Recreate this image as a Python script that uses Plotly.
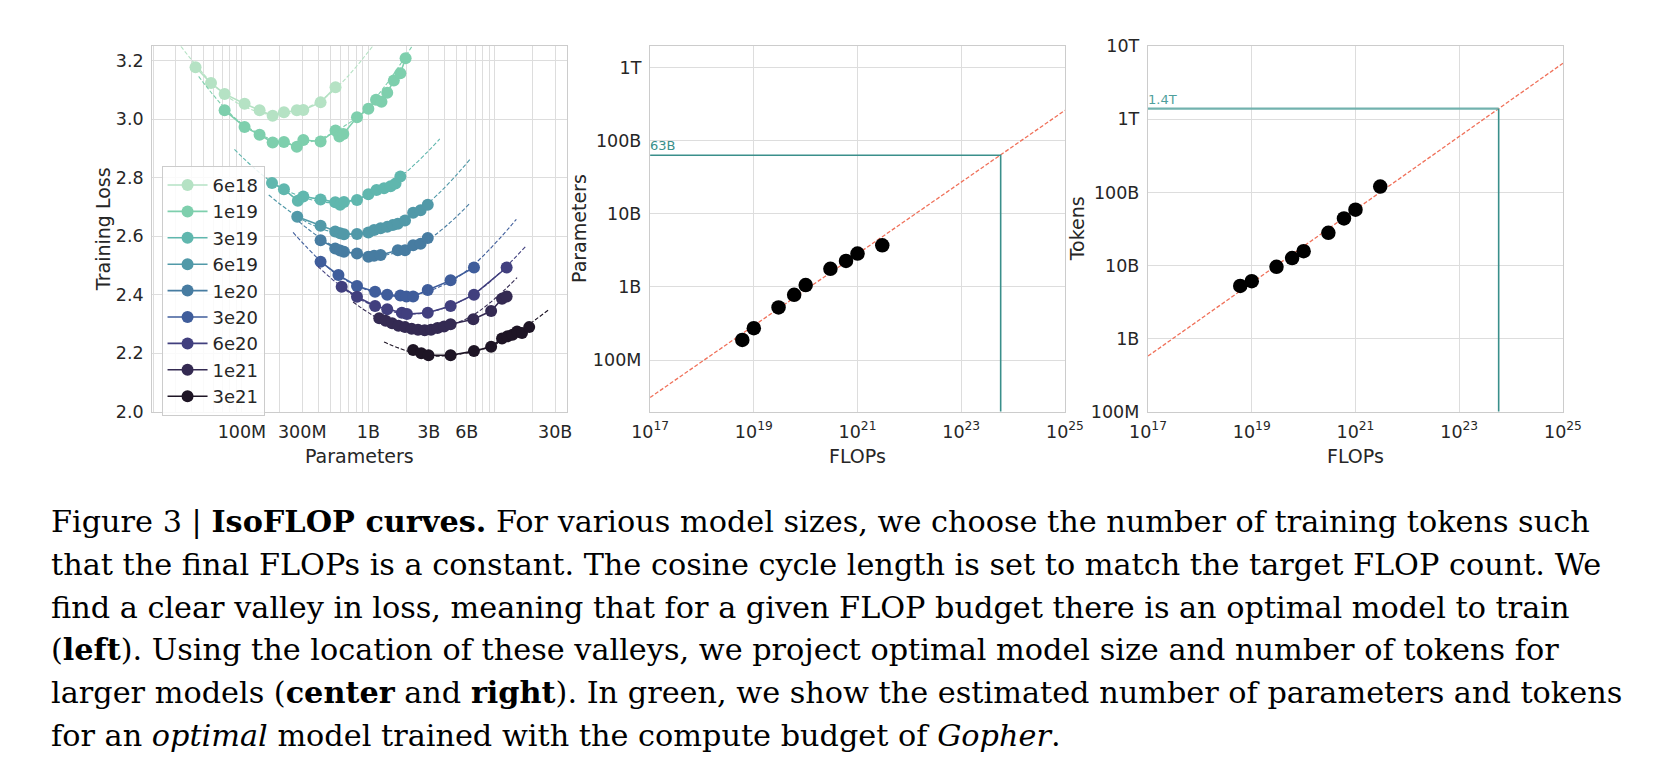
import math
import plotly.graph_objects as go

W, H = 1658, 776

# ---- data ----
budgets = ['6e18', '1e19', '3e19', '6e19', '1e20', '3e20', '6e20', '1e21', '3e21']
colors = ['#b5e2c4', '#7ecfad', '#60b7ae', '#5199a8', '#477ca1', '#3f5d9b', '#413f7e', '#342a52', '#1e1525']

params_6e18 = [43e6, 57e6, 73e6, 105e6, 138e6, 175e6, 215e6, 272e6, 306e6, 419e6, 550e6]
loss_6e18 = [3.178, 3.124, 3.087, 3.053, 3.031, 3.012, 3.024, 3.031, 3.032, 3.058, 3.110]
params_1e19 = [73e6, 105e6, 138e6, 175e6, 215e6, 272e6, 306e6, 419e6, 550e6, 590e6, 634e6, 813e6,
               1.0e9, 1.15e9, 1.27e9, 1.41e9, 1.59e9, 1.79e9, 1.97e9]
loss_1e19 = [3.031, 2.974, 2.947, 2.921, 2.922, 2.906, 2.929, 2.924, 2.962, 2.941, 2.950, 3.007,
             3.036, 3.067, 3.060, 3.091, 3.133, 3.158, 3.209]
params_3e19 = [173e6, 215e6, 277e6, 306e6, 419e6, 547e6, 598e6, 641e6, 813e6, 1.0e9, 1.16e9, 1.33e9,
               1.50e9, 1.64e9, 1.79e9]
loss_3e19 = [2.782, 2.761, 2.721, 2.736, 2.726, 2.716, 2.708, 2.717, 2.724, 2.744, 2.758, 2.764,
             2.771, 2.780, 2.804]
params_6e19 = [274e6, 419e6, 547e6, 598e6, 641e6, 813e6, 1.0e9, 1.11e9, 1.25e9, 1.41e9, 1.56e9,
               1.71e9, 1.95e9, 2.26e9, 2.59e9, 2.95e9]
loss_6e19 = [2.667, 2.636, 2.616, 2.610, 2.607, 2.608, 2.613, 2.621, 2.627, 2.632, 2.638,
             2.643, 2.654, 2.680, 2.689, 2.708]
params_1e20 = [419e6, 547e6, 598e6, 641e6, 813e6, 1.0e9, 1.11e9, 1.25e9, 1.71e9, 1.95e9, 2.26e9,
               2.59e9, 2.95e9]
loss_1e20 = [2.586, 2.558, 2.551, 2.547, 2.541, 2.530, 2.533, 2.536, 2.552, 2.552, 2.569,
             2.574, 2.594]
params_3e20 = [419e6, 580e6, 813e6, 1.13e9, 1.41e9, 1.79e9, 2.0e9, 2.26e9, 2.95e9, 4.47e9, 6.84e9]
loss_3e20 = [2.513, 2.467, 2.430, 2.410, 2.400, 2.397, 2.394, 2.394, 2.416, 2.449, 2.493]
params_6e20 = [615e6, 813e6, 1.13e9, 1.41e9, 1.84e9, 2.02e9, 2.95e9, 4.47e9, 6.84e9, 12.4e9]
loss_6e20 = [2.427, 2.393, 2.361, 2.350, 2.338, 2.334, 2.338, 2.361, 2.400, 2.493]
params_1e21 = [1.22e9, 1.37e9, 1.54e9, 1.73e9, 1.95e9, 2.20e9, 2.47e9, 2.79e9, 3.13e9, 3.52e9,
               3.97e9, 4.47e9, 6.76e9, 9.35e9, 11.4e9, 12.4e9]
loss_1e21 = [2.319, 2.311, 2.302, 2.294, 2.289, 2.283, 2.280, 2.278, 2.280, 2.286,
             2.291, 2.299, 2.316, 2.344, 2.386, 2.394]
params_3e21 = [2.26e9, 2.62e9, 2.99e9, 4.47e9, 6.84e9, 9.35e9, 11.4e9, 12.6e9, 13.8e9, 15.0e9,
               16.4e9, 18.7e9]
loss_3e21 = [2.211, 2.200, 2.193, 2.193, 2.207, 2.222, 2.250, 2.258, 2.263, 2.274, 2.269, 2.289]

# dashed parabola fits
fitp_6e18 = [32.9e6, 79.4e6, 188e6, 447e6, 1.08e9]
fitl_6e18 = [3.25, 3.073, 3.015, 3.073, 3.25]
fitp_1e19 = [45.5e6, 100e6, 265e6, 794e6, 2.2e9]
fitl_1e19 = [3.147, 2.986, 2.915, 3.004, 3.248]
fitp_3e19 = [87.3e6, 200e6, 521e6, 1.41e9, 3.67e9]
fitl_3e19 = [2.897, 2.768, 2.715, 2.772, 2.933]
fitp_6e19 = [163e6, 355e6, 759e6, 2.24e9, 6.37e9]
fitl_6e19 = [2.741, 2.640, 2.607, 2.673, 2.863]
fitp_1e20 = [282e6, 562e6, 1.12e9, 2.82e9, 6.37e9]
fitl_1e20 = [2.650, 2.561, 2.532, 2.583, 2.713]
fitp_3e20 = [254e6, 631e6, 1.76e9, 5.01e9, 14.8e9]
fitl_3e20 = [2.613, 2.455, 2.394, 2.458, 2.658]
fitp_6e20 = [398e6, 891e6, 2.24e9, 6.31e9, 17.7e9]
fitl_6e20 = [2.497, 2.380, 2.334, 2.393, 2.567]
fitp_1e21 = [757e6, 1.41e9, 2.68e9, 6.31e9, 15.0e9]
fitl_1e21 = [2.375, 2.303, 2.278, 2.323, 2.458]
fitp_3e21 = [1.33e9, 2.24e9, 3.85e9, 10e9, 26.4e9]
fitl_3e21 = [2.238, 2.202, 2.190, 2.229, 2.347]

curves = [
    (params_6e18, loss_6e18, fitp_6e18, fitl_6e18),
    (params_1e19, loss_1e19, fitp_1e19, fitl_1e19),
    (params_3e19, loss_3e19, fitp_3e19, fitl_3e19),
    (params_6e19, loss_6e19, fitp_6e19, fitl_6e19),
    (params_1e20, loss_1e20, fitp_1e20, fitl_1e20),
    (params_3e20, loss_3e20, fitp_3e20, fitl_3e20),
    (params_6e20, loss_6e20, fitp_6e20, fitl_6e20),
    (params_1e21, loss_1e21, fitp_1e21, fitl_1e21),
    (params_3e21, loss_3e21, fitp_3e21, fitl_3e21),
]

# optimal points per budget (center / right)
opt_flops = [6e18, 1e19, 3e19, 6e19, 1e20, 3e20, 6e20, 1e21, 3e21]
opt_params = [189e6, 273e6, 525e6, 782e6, 1.06e9, 1.77e9, 2.27e9, 2.86e9, 3.71e9]
opt_tokens = [5.25e9, 6.1e9, 9.6e9, 12.6e9, 15.7e9, 28e9, 44e9, 58e9, 120e9]

# projection lines
proj_flops = [1e17, 1e25]
proj_params = [3.09e7, 2.59e11]
proj_tokens = [5.75e8, 5.85e12]

gopher_flops = 5.76e23
gopher_params = 63e9
gopher_tokens = 1.4e12

# ---- figure ----
fig = go.Figure()

for name, col, (p, l, fp, fl) in zip(budgets, colors, curves):
    fig.add_trace(go.Scatter(
        x=fp, y=fl, mode='lines', line=dict(color=col, width=1.1, dash='4px,2px', shape='spline'),
        showlegend=False, hoverinfo='skip', xaxis='x', yaxis='y'))
    fig.add_trace(go.Scatter(
        x=p, y=l, mode='lines+markers', name=name,
        line=dict(color=col, width=1.6), marker=dict(color=col, size=12),
        xaxis='x', yaxis='y'))

teal = '#3a8f8b'
red = '#f0715a'

# center
fig.add_trace(go.Scatter(x=proj_flops, y=proj_params, mode='lines',
                         line=dict(color=red, width=1.3, dash='4px,2px'),
                         showlegend=False, xaxis='x2', yaxis='y2'))
fig.add_trace(go.Scatter(x=[1e17, gopher_flops, gopher_flops], y=[gopher_params, gopher_params, 1e6],
                         mode='lines', line=dict(color=teal, width=1.6),
                         showlegend=False, xaxis='x2', yaxis='y2'))
fig.add_trace(go.Scatter(x=opt_flops, y=opt_params, mode='markers',
                         marker=dict(color='black', size=14.5), showlegend=False,
                         xaxis='x2', yaxis='y2'))

# right
fig.add_trace(go.Scatter(x=proj_flops, y=proj_tokens, mode='lines',
                         line=dict(color=red, width=1.3, dash='4px,2px'),
                         showlegend=False, xaxis='x3', yaxis='y3'))
fig.add_trace(go.Scatter(x=[1e17, gopher_flops], y=[gopher_tokens, gopher_tokens],
                         mode='lines', line=dict(color='#72b2ae', width=2.4),
                         showlegend=False, xaxis='x3', yaxis='y3'))
fig.add_trace(go.Scatter(x=[gopher_flops, gopher_flops], y=[gopher_tokens, 1e6],
                         mode='lines', line=dict(color=teal, width=1.6),
                         showlegend=False, xaxis='x3', yaxis='y3'))
fig.add_trace(go.Scatter(x=opt_flops, y=opt_tokens, mode='markers',
                         marker=dict(color='black', size=14.5), showlegend=False,
                         xaxis='x3', yaxis='y3'))

grid = '#dddddd'
frame = '#cccccc'
tick_font = dict(family='DejaVu Sans', size=17.5, color='#262626')

def ax(**kw):
    base = dict(showgrid=True, gridcolor=grid, gridwidth=1.2, showline=True, mirror=True,
                linecolor=frame, linewidth=1.4, zeroline=False, tickfont=tick_font,
                ticks='outside', ticklen=4, tickcolor='rgba(0,0,0,0)')
    base.update(kw)
    return base

ydom = [1 - 404 / H, 1 - 29 / H]
majors_left = [1e8, 3e8, 1e9, 3e9, 6e9, 3e10]
minors_left = [m * 10 ** e for e in range(7, 11) for m in range(1, 10) if m * 10 ** e not in majors_left]
flop_ticks = [1e17, 1e19, 1e21, 1e23, 1e25]
flop_text = ['10<sup>17</sup>', '10<sup>19</sup>', '10<sup>21</sup>', '10<sup>23</sup>', '10<sup>25</sup>']

fig.update_layout(
    width=W, height=H, margin=dict(l=0, r=0, t=0, b=0),
    paper_bgcolor='white', plot_bgcolor='white',
    font=dict(family='DejaVu Sans', color='#262626'),
    xaxis=ax(type='log', domain=[128.3 / W, 552.7 / W], range=[7.292, 10.571],
             tickvals=majors_left, ticktext=['100M', '300M', '1B', '3B', '6B', '30B'],
             minor=dict(tickvals=minors_left, showgrid=True, gridcolor=grid, gridwidth=1.2, ticks=''),
             anchor='y'),
    yaxis=ax(domain=ydom, range=[2.0, 3.25], tickvals=[2.0, 2.2, 2.4, 2.6, 2.8, 3.0, 3.2],
             tickformat='.1f', anchor='x'),
    xaxis2=ax(type='log', domain=[637.7 / W, 1062.3 / W], range=[17, 25],
              tickvals=flop_ticks, ticktext=flop_text, anchor='y2'),
    yaxis2=ax(type='log', domain=ydom, range=[7.297, 12.289],
              tickvals=[1e8, 1e9, 1e10, 1e11, 1e12], ticktext=['100M', '1B', '10B', '100B', '1T'],
              anchor='x2'),
    xaxis3=ax(type='log', domain=[1147.3 / W, 1572 / W], range=[17, 25],
              tickvals=flop_ticks, ticktext=flop_text, anchor='y3'),
    yaxis3=ax(type='log', domain=ydom, range=[8, 13],
              tickvals=[1e8, 1e9, 1e10, 1e11, 1e12, 1e13],
              ticktext=['100M', '1B', '10B', '100B', '1T', '10T'], anchor='x3'),
    showlegend=True,
    legend=dict(x=137.7 / W, y=1 - 151.7 / H, xanchor='left', yanchor='top',
                bgcolor='rgba(255,255,255,0.85)', bordercolor=frame, borderwidth=1,
                font=dict(family='DejaVu Sans', size=18, color='#262626'), itemwidth=40),
)

title_font = dict(family='DejaVu Sans', size=19, color='#262626')
annos = [
    dict(text='Training Loss', x=78 / W, y=1 - 216.5 / H, textangle=-90),
    dict(text='Parameters', x=565 / W, y=1 - 216.5 / H, textangle=-90),
    dict(text='Tokens', x=1075 / W, y=1 - 216.5 / H, textangle=-90),
    dict(text='Parameters', x=340.5 / W, y=1 - 450 / H),
    dict(text='FLOPs', x=850 / W, y=1 - 450 / H),
    dict(text='FLOPs', x=1359.7 / W, y=1 - 450 / H),
]
for a in annos:
    fig.add_annotation(xref='paper', yref='paper', showarrow=False, font=title_font,
                       xanchor='center', yanchor='middle', **a)

fig.add_annotation(xref='x2', yref='y2', x=17, y=math.log10(gopher_params), text='63B',
                   showarrow=False, xanchor='left', yanchor='bottom', xshift=-2,
                   font=dict(family='DejaVu Sans', size=13, color=teal))
fig.add_annotation(xref='x3', yref='y3', x=17, y=math.log10(gopher_tokens), text='1.4T',
                   showarrow=False, xanchor='left', yanchor='bottom', xshift=-2,
                   font=dict(family='DejaVu Sans', size=13, color='#4f9f9c'))

caption = [
    "Figure 3 | <b>IsoFLOP curves.</b> For various model sizes, we choose the number of training tokens such",
    "that the final FLOPs is a constant. The cosine cycle length is set to match the target FLOP count. We",
    "find a clear valley in loss, meaning that for a given FLOP budget there is an optimal model to train",
    "(<b>left</b>). Using the location of these valleys, we project optimal model size and number of tokens for",
    "larger models (<b>center</b> and <b>right</b>). In green, we show the estimated number of parameters and tokens",
    "for an <i>optimal</i> model trained with the compute budget of <i>Gopher</i>.",
]
for i, line in enumerate(caption):
    base = 526.7 + i * 44
    fig.add_annotation(xref='paper', yref='paper', x=22.7 / W, y=1 - (base - 10) / H,
                       xanchor='left', yanchor='middle', showarrow=False, text=line,
                       font=dict(family='DejaVu Serif', size=30.3, color='black'))

fig.write_html("out.html")
